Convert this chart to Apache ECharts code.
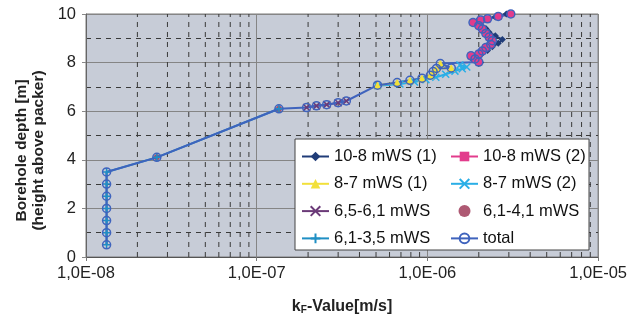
<!DOCTYPE html>
<html><head><meta charset="utf-8">
<script src="https://cdn.jsdelivr.net/npm/echarts@6/dist/echarts.min.js"></script>
<style>html,body{margin:0;padding:0;background:#fff}#c{width:630px;height:328px}</style>
</head><body><div id="c"></div>
<script>
// ---- data (kF in m/s, depth in m) ----
const depth_108_1 = [10.0, 9.88, 9.78, 9.7, 9.55, 9.4, 9.25, 9.1, 8.95, 8.8, 8.65, 8.5, 8.38, 8.25, 8.12, 8.0];
const kf_108_1    = [2.9e-6, 2.5e-6, 2.15e-6, 1.95e-6, 2.05e-6, 2.2e-6, 2.3e-6, 2.5e-6, 2.75e-6, 2.6e-6, 2.4e-6, 2.25e-6, 2.1e-6, 1.95e-6, 1.85e-6, 2.05e-6];
const depth_108_2 = [10.0, 9.9, 9.8, 9.75, 9.65, 9.52, 9.38, 9.2, 9.05, 8.9, 8.75, 8.62, 8.48, 8.35, 8.28, 8.15, 8.02];
const kf_108_2    = [3.08e-6, 2.6e-6, 2.25e-6, 2.05e-6, 1.85e-6, 2.0e-6, 2.1e-6, 2.2e-6, 2.3e-6, 2.4e-6, 2.35e-6, 2.2e-6, 2.1e-6, 2.0e-6, 1.8e-6, 1.9e-6, 2.0e-6];
const depth_87_1  = [7.96, 7.78, 7.76, 7.63, 7.48, 7.36, 7.27, 7.18, 7.07];
const kf_87_1     = [1.19e-6, 1.38e-6, 1.13e-6, 1.08e-6, 1.04e-6, 9.3e-7, 7.9e-7, 6.65e-7, 5.1e-7];
const depth_87_2  = [7.9, 7.82, 7.75, 7.65, 7.52, 7.4, 7.3, 7.2, 7.12, 7.05];
const kf_87_2     = [1.55e-6, 1.7e-6, 1.6e-6, 1.45e-6, 1.28e-6, 1.12e-6, 9.8e-7, 8.4e-7, 6.9e-7, 5.1e-7];
const depth_6561  = [6.42, 6.35, 6.27, 6.22, 6.15];
const kf_6561     = [3.35e-7, 3.0e-7, 2.57e-7, 2.24e-7, 1.96e-7];
const depth_6141  = [4.1, 6.1];
const kf_6141     = [2.6e-8, 1.35e-7];
const depth_6135  = [0.5, 1.0, 1.5, 2.0, 2.5, 3.0, 3.5];
const kf_6135     = [1.32e-8, 1.32e-8, 1.32e-8, 1.32e-8, 1.32e-8, 1.32e-8, 1.32e-8];
const xTickValues = [1e-8, 1e-7, 1e-6, 1e-5];
const yTickLabels = [0, 2, 4, 6, 8, 10];

function pairs(kf, d){ return kf.map((v,i)=>[v, d[i]]); }
const totalPts = [].concat(
  pairs(kf_6135, depth_6135), pairs(kf_6141, depth_6141), pairs(kf_6561, depth_6561),
  pairs(kf_87_1, depth_87_1), pairs(kf_108_2, depth_108_2)
).sort((a,b)=>a[1]-b[1]);

// minor vertical grid lines at 2..9 x decade (drawn as broken line segments)
const minorGrid = [];
for (let e = -8; e < -5; e++) for (let m = 2; m <= 9; m++) {
  const v = m * Math.pow(10, e);
  minorGrid.push([v, yTickLabels[0]], [v, yTickLabels[yTickLabels.length-1]], '-');
}

const FONT = 'Liberation Sans, Arial, sans-serif';
const X_PATH = 'path://M0,0L10,10M10,0L0,10';
const PLUS_PATH = 'path://M5,0L5,10M0,5L10,5';

const chart = echarts.init(document.getElementById('c'), null, {renderer:'canvas'});
const option = {
  animation: false,
  textStyle: {fontFamily: FONT},
  grid: {left: 86, right: 31, top: 14, bottom: 71, show: true, backgroundColor: '#c7ccd7', borderColor: '#7a7a7a', borderWidth: 1},
  xAxis: {
    type: 'log', logBase: 10, min: xTickValues[0], max: xTickValues[xTickValues.length-1],
    axisLine: {show: true, lineStyle: {color: '#555', width: 1}},
    axisTick: {show: true, inside: false, length: 4, lineStyle: {color: '#777'}},
    axisLabel: {color: '#222', fontSize: 16.5, margin: 8, fontFamily: FONT,
      formatter: v => { const e = Math.round(Math.log10(v)); return '1,0E-' + String(-e).padStart(2,'0'); }},
    splitLine: {show: true, lineStyle: {color: '#858585', width: 1, type: 'solid'}},
    name: '{k|k}{s|F}{v|-Value[m/s]}', nameLocation: 'middle', nameGap: 41,
    nameTextStyle: {rich: {
      k: {fontSize: 16, fontWeight: 'bold', color: '#222', fontFamily: FONT},
      s: {fontSize: 10, fontWeight: 'bold', color: '#222', verticalAlign: 'bottom', padding: [7,0,0,0], fontFamily: FONT},
      v: {fontSize: 16, fontWeight: 'bold', color: '#222', fontFamily: FONT}
    }}
  },
  yAxis: {
    type: 'value', min: yTickLabels[0], max: yTickLabels[yTickLabels.length-1], interval: 2,
    axisLine: {show: true, lineStyle: {color: '#666'}},
    axisTick: {show: true, length: 4, lineStyle: {color: '#888'}},
    axisLabel: {color: '#222', fontSize: 16.5, margin: 10, fontFamily: FONT},
    splitLine: {show: true, lineStyle: {color: '#858585', width: 1}},
    minorTick: {show: false, splitNumber: 2},
    minorSplitLine: {show: true, lineStyle: {color: '#3a3a3a', width: 1, type: [5,5]}},
    name: 'Borehole depth [m]\n(height above packer)', nameLocation: 'middle', nameRotate: 90, nameGap: 38,
    nameTextStyle: {fontSize: 15.5, fontWeight: 'bold', color: '#222', lineHeight: 17, fontFamily: FONT, padding: [0, 30, 0, 0]}
  },
  graphic: [{type: 'rect', z: 3, shape: {x: 295, y: 139, width: 294, height: 111},
    style: {fill: '#fff', stroke: '#444', lineWidth: 1}}],
  legend: [
    {orient: 'vertical', left: 296, top: 143, itemWidth: 27, itemHeight: 12, itemGap: 10.3, z: 5,
     textStyle: {fontSize: 16.5, color: '#111', fontFamily: FONT},
     data: ['10-8 mWS (1)', '8-7 mWS (1)', '6,5-6,1 mWS', '6,1-3,5 mWS']},
    {orient: 'vertical', left: 445, top: 143, itemWidth: 27, itemHeight: 12, itemGap: 10.3, z: 5,
     textStyle: {fontSize: 16.5, color: '#111', fontFamily: FONT},
     data: ['10-8 mWS (2)', '8-7 mWS (2)', '6,1-4,1 mWS', 'total']}
  ],
  series: [
    {name: 'minor-grid', type: 'line', data: minorGrid, symbol: 'none', silent: true, z: 0,
     connectNulls: false, lineStyle: {color: '#3a3a3a', width: 1, type: [5,5]}},
    {name: '6,1-3,5 mWS', type: 'line', data: pairs(kf_6135, depth_6135).concat(pairs(kf_6141, depth_6141)),
     symbol: PLUS_PATH, symbolSize: 8, lineStyle: {color: '#1f8fc4', width: 2},
     itemStyle: {color: '#1f8fc4', borderColor: '#1f8fc4', borderWidth: 1.5}},
    {name: '6,1-4,1 mWS', type: 'scatter', data: pairs(kf_6141, depth_6141), symbol: 'circle', symbolSize: 6,
     itemStyle: {color: '#9a3050'}},
    {name: '6,5-6,1 mWS', type: 'line', data: pairs(kf_6561, depth_6561), symbol: X_PATH, symbolSize: 7,
     lineStyle: {color: '#6b3a78', width: 2}, itemStyle: {color: '#6b3a78', borderColor: '#6b3a78', borderWidth: 1.5}},
    {name: '8-7 mWS (2)', type: 'line', data: pairs(kf_87_2, depth_87_2), symbol: X_PATH, symbolSize: 7,
     lineStyle: {color: '#2aaee6', width: 2}, itemStyle: {color: '#2aaee6', borderColor: '#2aaee6', borderWidth: 1.5}},
    {name: '8-7 mWS (1)', type: 'line', data: pairs(kf_87_1, depth_87_1), symbol: 'triangle', symbolSize: 8,
     lineStyle: {color: '#f2e03a', width: 2}, itemStyle: {color: '#f2e03a'}},
    {name: '10-8 mWS (1)', type: 'line', data: pairs(kf_108_1, depth_108_1), symbol: 'diamond', symbolSize: 7,
     lineStyle: {color: '#203c78', width: 2}, itemStyle: {color: '#203c78'}},
    {name: '10-8 mWS (2)', type: 'line', data: pairs(kf_108_2, depth_108_2), symbol: 'rect', symbolSize: 7,
     lineStyle: {color: '#e23c8c', width: 2}, itemStyle: {color: '#e23c8c'}},
    {name: 'total', type: 'line', data: totalPts, symbol: 'circle', symbolSize: 8,
     lineStyle: {color: '#3f63bd', width: 2},
     itemStyle: {color: 'rgba(255,255,255,0)', borderColor: '#3f63bd', borderWidth: 1.5}}
  ]
};
chart.setOption(option);
</script>
</body></html>
